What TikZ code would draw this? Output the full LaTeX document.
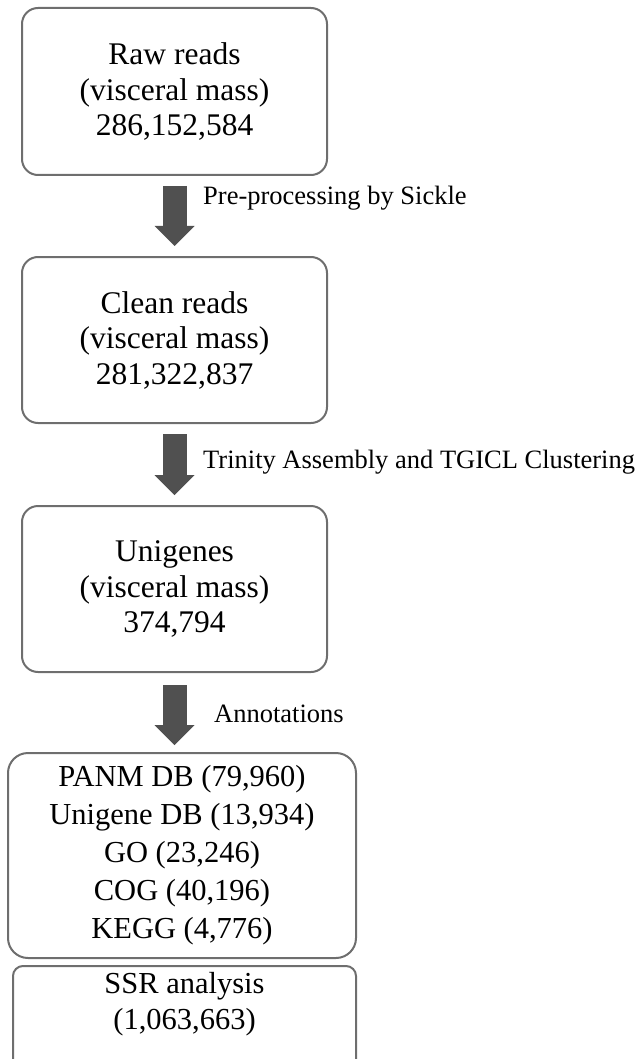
\documentclass[tikz,border=0pt]{standalone}
\usepackage{fontspec}
\setmainfont{Liberation Serif}
\usetikzlibrary{arrows.meta}
\definecolor{boxline}{RGB}{110,110,110}
\definecolor{arrowfill}{RGB}{80,80,80}
\begin{document}
\begin{tikzpicture}[x=1pt,y=-1pt,
  stagebox/.style={draw=boxline, line width=2pt, rounded corners=16pt, align=center, inner sep=0pt, font=\fontsize{31.5}{35.5}\selectfont},
  bigarrow/.style={draw=arrowfill, line width=24pt, -{Triangle[length=20pt,width=40pt,line width=0pt]}, shorten <=10pt, shorten >=10pt},
  steplabel/.style={anchor=base west, inner sep=0pt, font=\fontsize{26.5}{30}\selectfont}]
\useasboundingbox (0,0) rectangle (641,1059);
\node[stagebox, minimum width=305pt, minimum height=167pt] (b1) at (174.5,91.5) {Raw reads\\(visceral mass)\\286,152,584};
\node[stagebox, minimum width=305pt, minimum height=166pt] (b2) at (174.5,340) {Clean reads\\(visceral mass)\\281,322,837};
\node[stagebox, minimum width=305pt, minimum height=166pt] (b3) at (174.5,589) {Unigenes\\(visceral mass)\\374,794};
\node[stagebox, rounded corners=20pt, minimum width=348pt, minimum height=205pt, font=\fontsize{30.5}{38}\selectfont] (b4) at (182,855.5) {PANM DB (79,960)\\Unigene DB (13,934)\\GO (23,246)\\COG (40,196)\\KEGG (4,776)};
\node[stagebox, rounded corners=10pt, minimum width=343pt, minimum height=110pt, anchor=north] (b5) at (184.5,965) {};
\node[font=\fontsize{30.5}{36}\selectfont, align=center, inner sep=0pt] (b5t) at (184.5,1004) {SSR analysis\\(1,063,663)};
\draw[bigarrow] (b1.south) -- (b2.north);
\draw[bigarrow] (b2.south) -- (b3.north);
\draw[bigarrow, shorten <=12pt, shorten >=7pt] (b3.south) -- (b3.south |- b4.north);
\node[steplabel] (l1) at (203,205) {Pre-processing by Sickle};
\node[steplabel] (l2) at (203,468) {Trinity Assembly and TGICL Clustering};
\node[steplabel] (l3) at (214,722) {Annotations};
\end{tikzpicture}
\end{document}
